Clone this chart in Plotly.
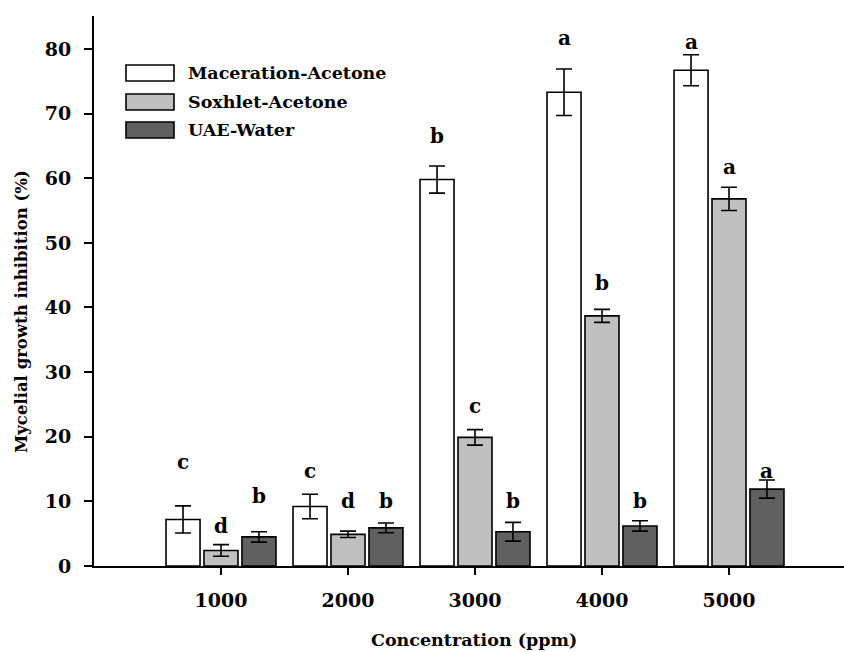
import plotly.graph_objects as go

concentrations = [1000, 2000, 3000, 4000, 5000]
series_names = ["Maceration-Acetone", "Soxhlet-Acetone", "UAE-Water"]
maceration = [7.2, 9.2, 59.8, 73.3, 76.7]
maceration_err = [2.1, 1.9, 2.1, 3.6, 2.4]
soxhlet = [2.4, 4.9, 19.9, 38.7, 56.8]
soxhlet_err = [0.9, 0.5, 1.2, 1.0, 1.8]
uae = [4.5, 5.9, 5.3, 6.2, 11.9]
uae_err = [0.8, 0.75, 1.45, 0.8, 1.4]
maceration_letters = ["c", "c", "b", "a", "a"]
soxhlet_letters = ["d", "d", "c", "b", "a"]
uae_letters = ["b", "b", "b", "b", "a"]
maceration_letter_y = [16.1, 14.7, 66.5, 81.7, 81.1]
soxhlet_letter_y = [6.2, 10.1, 24.8, 43.8, 61.8]
uae_letter_y = [10.9, 10.1, 10.1, 10.1, 14.7]

colors = ["#ffffff", "#c0c0c0", "#606060"]
FONT = "DejaVu Serif"

values = [maceration, soxhlet, uae]
errors = [maceration_err, soxhlet_err, uae_err]
letters = [maceration_letters, soxhlet_letters, uae_letters]
letter_y = [maceration_letter_y, soxhlet_letter_y, uae_letter_y]

fig = go.Figure()
for name, v, e, c in zip(series_names, values, errors, colors):
    fig.add_trace(go.Bar(
        x=concentrations, y=v, name=name,
        marker=dict(color=c, line=dict(color="black", width=1.6)),
        error_y=dict(type="data", array=e, visible=True, color="black",
                     thickness=1.6, width=8),
        showlegend=False,
    ))

group_w = 1000 * (1 - 0.103)
slot = group_w / 3
annotations = []
for i in range(3):
    for j, xc in enumerate(concentrations):
        annotations.append(dict(
            x=xc + (i - 1) * slot, y=letter_y[i][j], xref="x", yref="y",
            text="<b>%s</b>" % letters[i][j], showarrow=False,
            font=dict(family=FONT, size=20, color="black"),
        ))

# legend drawn manually
shapes = []
leg_y = [73, 102, 130]
H = 550.0
for i, name in enumerate(series_names):
    yc = (566 - leg_y[i]) / H
    shapes.append(dict(type="rect", xref="paper", yref="paper",
                       x0=32 / 750, x1=80 / 750, y0=yc - 8 / H, y1=yc + 8 / H,
                       fillcolor=colors[i], line=dict(color="black", width=1.6)))
    annotations.append(dict(x=92 / 750, y=yc, xref="paper", yref="paper",
                            text="<b>%s</b>" % name, showarrow=False,
                            xanchor="left", yanchor="middle",
                            font=dict(family=FONT, size=17.5, color="black")))

annotations.append(dict(x=-73 / 750, y=(566 - 312) / H, xref="paper", yref="paper",
                        text="<b>Mycelial growth inhibition (%)</b>", showarrow=False,
                        textangle=-90, xanchor="center", yanchor="middle",
                        font=dict(family=FONT, size=16.5, color="black")))
annotations.append(dict(x=(474 - 94) / 750, y=-74 / H, xref="paper", yref="paper",
                        text="<b>Concentration (ppm)</b>", showarrow=False,
                        xanchor="center", yanchor="middle",
                        font=dict(family=FONT, size=17.5, color="black")))

fig.update_layout(
    width=844, height=652,
    margin=dict(l=94, r=0, t=16, b=86),
    plot_bgcolor="white", paper_bgcolor="white",
    barmode="group", bargap=0.103, bargroupgap=0.104,
    shapes=shapes, annotations=annotations,
    font=dict(family=FONT, color="black"),
)
fig.update_xaxes(
    range=[0, 750 / 127 * 1000], tickmode="array", tickvals=concentrations,
    ticktext=["<b>%d</b>" % c for c in concentrations],
    showline=True, linecolor="black", linewidth=2, ticks="outside", ticklen=7,
    tickwidth=1.5, tickcolor="black", showgrid=False, zeroline=False,
    tickfont=dict(family=FONT, size=19, color="black"), ticklabelstandoff=9,
)
fig.update_yaxes(
    range=[0, 85.1], tickvals=[0, 10, 20, 30, 40, 50, 60, 70, 80],
    ticktext=["<b>%d</b>" % v for v in [0, 10, 20, 30, 40, 50, 60, 70, 80]],
    showline=True, linecolor="black", linewidth=2, ticks="outside", ticklen=8,
    tickwidth=1.5, tickcolor="black", showgrid=False, zeroline=False,
    tickfont=dict(family=FONT, size=19, color="black"), ticklabelstandoff=9,
)
fig.write_html("out.html", config={"displayModeBar": False},
               post_script="document.body.style.margin='0';document.body.style.overflow='hidden';")
